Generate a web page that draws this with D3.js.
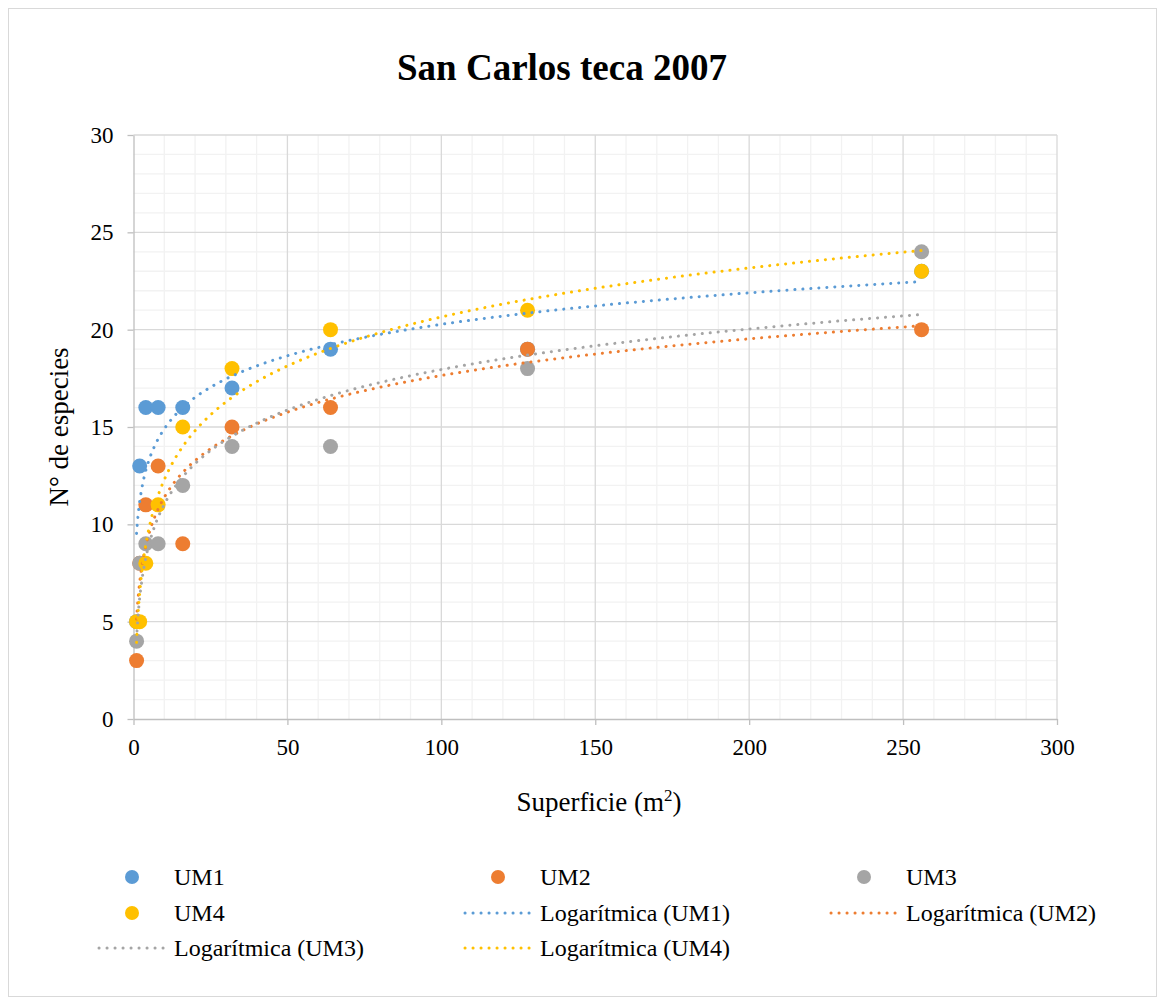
<!DOCTYPE html>
<html>
<head>
<meta charset="utf-8">
<script src="https://cdn.jsdelivr.net/npm/d3@7"></script>
<style>
  body { margin: 0; background: #fff; }
  text { font-family: 'Liberation Serif', 'Times New Roman', serif; fill: #000; }
</style>
</head>
<body>
<svg id="chart"></svg>
<script>
// superficie (m2) for each sample
const superficie = [1, 2, 4, 8, 16, 32, 64, 128, 256];
// species counts per unit
const um1 = [5, 13, 16, 16, 16, 17, 19, 19, 23];
const um2 = [3, 8, 11, 13, 9, 15, 16, 19, 20];
const um3 = [4, 8, 9, 9, 12, 14, 14, 18, 24];
const um4 = [5, 5, 8, 11, 15, 18, 20, 21, 23];
const seriesNames = ['UM1', 'UM2', 'UM3', 'UM4'];
const xTicks = [0, 50, 100, 150, 200, 250, 300];
const yTicks = [0, 5, 10, 15, 20, 25, 30];

const colors = ['#5b9bd5', '#ed7d31', '#a5a5a5', '#ffc000'];

let w = 1165;
let h = 1000;

let series = [um1, um2, um3, um4].map((vals, i) => ({
  name: seriesNames[i],
  color: colors[i],
  points: vals.map((v, j) => ({ x: superficie[j], y: v }))
}));

// least squares fit of y = a*ln(x) + b, same as the spreadsheet trendline
function logFit(points) {
  let lx = points.map((p) => Math.log(p.x));
  let mx = d3.mean(lx);
  let my = d3.mean(points, (p) => p.y);
  let sxy = d3.sum(points, (p, i) => (lx[i] - mx) * (p.y - my));
  let sxx = d3.sum(lx, (l) => (l - mx) * (l - mx));
  let a = sxy / sxx;
  return { a: a, b: my - a * mx };
}

let svg = d3.select('#chart')
  .attr('width', w)
  .attr('height', h);

// outer chart border
svg.append('rect')
  .attr('x', 8.5).attr('y', 8.5)
  .attr('width', 1148).attr('height', 988)
  .attr('fill', '#fff')
  .attr('stroke', '#d9d9d9');

let pLeft = 133.5, pRight = 1057, pTop = 135, pBottom = 719;

let xScale = d3.scaleLinear().domain([0, 300]).range([pLeft, pRight]);
let yScale = d3.scaleLinear().domain([0, 30]).range([pBottom, pTop]);

// minor gridlines
svg.append('g')
  .selectAll('line')
  .data(d3.range(0, 301, 10).filter((d) => d % 50 != 0))
  .enter().append('line')
  .attr('x1', (d) => xScale(d)).attr('x2', (d) => xScale(d))
  .attr('y1', pTop).attr('y2', pBottom)
  .attr('stroke', '#f2f2f2').attr('stroke-width', 1.3);

svg.append('g')
  .selectAll('line')
  .data(d3.range(0, 31, 1).filter((d) => d % 5 != 0))
  .enter().append('line')
  .attr('x1', pLeft).attr('x2', pRight)
  .attr('y1', (d) => yScale(d)).attr('y2', (d) => yScale(d))
  .attr('stroke', '#f2f2f2').attr('stroke-width', 1.3);

// major gridlines
svg.append('g')
  .selectAll('line')
  .data(xTicks.slice(1))
  .enter().append('line')
  .attr('x1', (d) => xScale(d)).attr('x2', (d) => xScale(d))
  .attr('y1', pTop).attr('y2', pBottom)
  .attr('stroke', '#d9d9d9').attr('stroke-width', 1.3);

svg.append('g')
  .selectAll('line')
  .data(yTicks.slice(1))
  .enter().append('line')
  .attr('x1', pLeft).attr('x2', pRight)
  .attr('y1', (d) => yScale(d)).attr('y2', (d) => yScale(d))
  .attr('stroke', '#d9d9d9').attr('stroke-width', 1.3);

// AXES
let xAxis = svg.append('g')
  .attr('transform', `translate(0, ${pBottom})`)
  .call(d3.axisBottom(xScale).tickValues(xTicks).tickSize(6).tickSizeOuter(0).tickPadding(14));

let yAxis = svg.append('g')
  .attr('transform', `translate(${pLeft}, 0)`)
  .call(d3.axisLeft(yScale).tickValues(yTicks).tickSize(6).tickSizeOuter(0).tickPadding(14));

[xAxis, yAxis].forEach((ax) => {
  ax.attr('font-family', null);
  ax.select('.domain').attr('stroke', '#bfbfbf').attr('stroke-width', 1.3);
  ax.selectAll('.tick line').attr('stroke', '#bfbfbf').attr('stroke-width', 1.3);
  ax.selectAll('.tick text')
    .attr('font-size', 23)
    .attr('fill', '#000');
});

// points, in series order
series.forEach((s) => {
  svg.append('g')
    .selectAll('circle')
    .data(s.points)
    .enter().append('circle')
    .attr('cx', (d) => xScale(d.x))
    .attr('cy', (d) => yScale(d.y))
    .attr('r', 7.5)
    .attr('fill', s.color);
});

// logarithmic trendlines drawn on top
let line = d3.line()
  .x((d) => xScale(d.x))
  .y((d) => yScale(d.y));

series.forEach((s) => {
  let fit = logFit(s.points);
  let x0 = d3.min(s.points, (p) => p.x);
  let x1 = d3.max(s.points, (p) => p.x);
  let curve = d3.range(0, 201).map((k) => {
    let x = x0 * Math.pow(x1 / x0, k / 200);
    return { x: x, y: fit.a * Math.log(x) + fit.b };
  });
  svg.append('path')
    .datum(curve)
    .attr('d', line)
    .attr('fill', 'none')
    .attr('stroke', s.color)
    .attr('stroke-width', 3)
    .attr('stroke-linecap', 'round')
    .attr('stroke-dasharray', '0.1 7.9');
});

// title and axis titles
svg.append('text')
  .attr('x', 562).attr('y', 80)
  .attr('text-anchor', 'middle')
  .attr('font-size', 37)
  .attr('font-weight', 'bold')
  .text('San Carlos teca 2007');

svg.append('text')
  .attr('transform', 'translate(68, 427) rotate(-90)')
  .attr('text-anchor', 'middle')
  .attr('font-size', 27)
  .text('N° de especies');

let xTitle = svg.append('text')
  .attr('x', 599).attr('y', 811)
  .attr('text-anchor', 'middle')
  .attr('font-size', 27);
xTitle.append('tspan').text('Superficie (m');
xTitle.append('tspan').attr('font-size', 17).attr('dy', -10).text('2');
xTitle.append('tspan').attr('dy', 10).text(')');

// LEGEND
let legendItems = [
  { label: 'UM1', color: colors[0], type: 'dot' },
  { label: 'UM2', color: colors[1], type: 'dot' },
  { label: 'UM3', color: colors[2], type: 'dot' },
  { label: 'UM4', color: colors[3], type: 'dot' },
  { label: 'Logarítmica (UM1)', color: colors[0], type: 'line' },
  { label: 'Logarítmica (UM2)', color: colors[1], type: 'line' },
  { label: 'Logarítmica (UM3)', color: colors[2], type: 'line' },
  { label: 'Logarítmica (UM4)', color: colors[3], type: 'line' }
];
let colX = [174, 540, 906];
let rowY = [877, 913, 948];

let legend = svg.append('g')
  .selectAll('g')
  .data(legendItems)
  .enter().append('g')
  .attr('transform', (d, i) => `translate(${colX[i % 3]}, ${rowY[Math.floor(i / 3)]})`);

legend.filter((d) => d.type == 'dot')
  .append('circle')
  .attr('cx', -42).attr('cy', 0).attr('r', 7)
  .attr('fill', (d) => d.color);

legend.filter((d) => d.type == 'line')
  .append('line')
  .attr('x1', -75).attr('x2', -8)
  .attr('y1', 0).attr('y2', 0)
  .attr('stroke', (d) => d.color)
  .attr('stroke-width', 3)
  .attr('stroke-linecap', 'round')
  .attr('stroke-dasharray', '0.1 7.9');

legend.append('text')
  .attr('x', 0).attr('y', 8)
  .attr('font-size', 24)
  .text((d) => d.label);
</script>
</body>
</html>
